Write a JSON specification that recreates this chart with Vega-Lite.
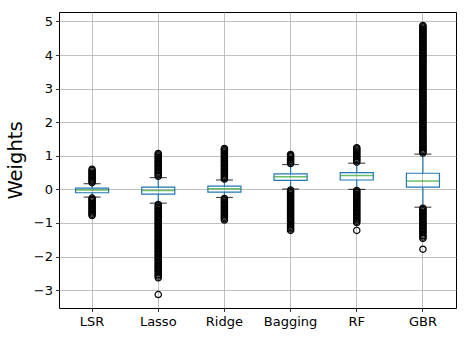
{
 "$schema": "https://vega.github.io/schema/vega-lite/v6.json",
 "width": 397, "height": 296,
 "autosize": {"type": "none"},
 "padding": {"left": 59, "top": 12, "right": 12, "bottom": 29},
 "background": "white",
 "config": {
  "font": "DejaVu Sans",
  "view": {"stroke": "black", "strokeWidth": 1},
  "axis": {"domain": false, "tickColor": "black", "tickSize": 3.5, "tickWidth": 0.8, "labelColor": "black", "labelFontSize": 13, "labelFont": "DejaVu Sans", "labelPadding": 3, "labelOverlap": false, "labelFlush": false, "gridColor": "#b0b0b0", "gridWidth": 0.8, "titleFont": "DejaVu Sans"}
 },
 "datasets": {
  "stats": [
   {"m": "LSR", "lo": -0.23, "q1": -0.10, "med": -0.02, "q3": 0.04, "hi": 0.17},
   {"m": "Lasso", "lo": -0.41, "q1": -0.14, "med": -0.03, "q3": 0.065, "hi": 0.35},
   {"m": "Ridge", "lo": -0.24, "q1": -0.08, "med": 0.02, "q3": 0.10, "hi": 0.28},
   {"m": "Bagging", "lo": 0.01, "q1": 0.27, "med": 0.38, "q3": 0.46, "hi": 0.74},
   {"m": "RF", "lo": 0.00, "q1": 0.28, "med": 0.41, "q3": 0.50, "hi": 0.78},
   {"m": "GBR", "lo": -0.53, "q1": 0.065, "med": 0.25, "q3": 0.48, "hi": 1.05}
  ],
  "fliers": [
   {"m":"LSR","v":0.20},{"m":"LSR","v":0.24},{"m":"LSR","v":0.28},{"m":"LSR","v":0.32},{"m":"LSR","v":0.36},{"m":"LSR","v":0.40},{"m":"LSR","v":0.44},{"m":"LSR","v":0.48},{"m":"LSR","v":0.52},{"m":"LSR","v":0.56},{"m":"LSR","v":0.60},
   {"m":"LSR","v":-0.26},{"m":"LSR","v":-0.30},{"m":"LSR","v":-0.34},{"m":"LSR","v":-0.38},{"m":"LSR","v":-0.42},{"m":"LSR","v":-0.46},{"m":"LSR","v":-0.50},{"m":"LSR","v":-0.54},{"m":"LSR","v":-0.58},{"m":"LSR","v":-0.62},{"m":"LSR","v":-0.66},{"m":"LSR","v":-0.70},{"m":"LSR","v":-0.74},{"m":"LSR","v":-0.78},
   {"m":"Lasso","v":0.39},{"m":"Lasso","v":0.43},{"m":"Lasso","v":0.47},{"m":"Lasso","v":0.51},{"m":"Lasso","v":0.55},{"m":"Lasso","v":0.59},{"m":"Lasso","v":0.63},{"m":"Lasso","v":0.67},{"m":"Lasso","v":0.71},{"m":"Lasso","v":0.75},{"m":"Lasso","v":0.79},{"m":"Lasso","v":0.83},{"m":"Lasso","v":0.87},{"m":"Lasso","v":0.91},{"m":"Lasso","v":0.95},{"m":"Lasso","v":0.99},{"m":"Lasso","v":1.03},{"m":"Lasso","v":1.07},
   {"m":"Lasso","v":-0.45},{"m":"Lasso","v":-0.49},{"m":"Lasso","v":-0.53},{"m":"Lasso","v":-0.57},{"m":"Lasso","v":-0.61},{"m":"Lasso","v":-0.65},{"m":"Lasso","v":-0.69},{"m":"Lasso","v":-0.73},{"m":"Lasso","v":-0.77},{"m":"Lasso","v":-0.81},{"m":"Lasso","v":-0.85},{"m":"Lasso","v":-0.89},{"m":"Lasso","v":-0.93},{"m":"Lasso","v":-0.97},{"m":"Lasso","v":-1.01},{"m":"Lasso","v":-1.05},{"m":"Lasso","v":-1.09},{"m":"Lasso","v":-1.13},{"m":"Lasso","v":-1.17},{"m":"Lasso","v":-1.21},{"m":"Lasso","v":-1.25},{"m":"Lasso","v":-1.29},{"m":"Lasso","v":-1.33},{"m":"Lasso","v":-1.37},{"m":"Lasso","v":-1.41},{"m":"Lasso","v":-1.45},{"m":"Lasso","v":-1.49},{"m":"Lasso","v":-1.53},{"m":"Lasso","v":-1.57},{"m":"Lasso","v":-1.61},{"m":"Lasso","v":-1.65},{"m":"Lasso","v":-1.69},{"m":"Lasso","v":-1.73},{"m":"Lasso","v":-1.77},{"m":"Lasso","v":-1.81},{"m":"Lasso","v":-1.85},{"m":"Lasso","v":-1.89},{"m":"Lasso","v":-1.93},{"m":"Lasso","v":-1.97},{"m":"Lasso","v":-2.01},{"m":"Lasso","v":-2.05},{"m":"Lasso","v":-2.09},{"m":"Lasso","v":-2.13},{"m":"Lasso","v":-2.17},{"m":"Lasso","v":-2.21},{"m":"Lasso","v":-2.25},{"m":"Lasso","v":-2.29},{"m":"Lasso","v":-2.33},{"m":"Lasso","v":-2.37},{"m":"Lasso","v":-2.41},{"m":"Lasso","v":-2.45},{"m":"Lasso","v":-2.49},{"m":"Lasso","v":-2.54},{"m":"Lasso","v":-2.58},{"m":"Lasso","v":-2.63},{"m":"Lasso","v":-3.13},
   {"m":"Ridge","v":0.31},{"m":"Ridge","v":0.35},{"m":"Ridge","v":0.39},{"m":"Ridge","v":0.43},{"m":"Ridge","v":0.47},{"m":"Ridge","v":0.51},{"m":"Ridge","v":0.55},{"m":"Ridge","v":0.59},{"m":"Ridge","v":0.63},{"m":"Ridge","v":0.67},{"m":"Ridge","v":0.71},{"m":"Ridge","v":0.75},{"m":"Ridge","v":0.79},{"m":"Ridge","v":0.83},{"m":"Ridge","v":0.87},{"m":"Ridge","v":0.91},{"m":"Ridge","v":0.95},{"m":"Ridge","v":0.99},{"m":"Ridge","v":1.03},{"m":"Ridge","v":1.07},{"m":"Ridge","v":1.11},{"m":"Ridge","v":1.15},{"m":"Ridge","v":1.19},{"m":"Ridge","v":1.22},
   {"m":"Ridge","v":-0.27},{"m":"Ridge","v":-0.31},{"m":"Ridge","v":-0.35},{"m":"Ridge","v":-0.39},{"m":"Ridge","v":-0.43},{"m":"Ridge","v":-0.47},{"m":"Ridge","v":-0.51},{"m":"Ridge","v":-0.55},{"m":"Ridge","v":-0.59},{"m":"Ridge","v":-0.63},{"m":"Ridge","v":-0.67},{"m":"Ridge","v":-0.71},{"m":"Ridge","v":-0.75},{"m":"Ridge","v":-0.79},{"m":"Ridge","v":-0.83},{"m":"Ridge","v":-0.87},{"m":"Ridge","v":-0.91},
   {"m":"Bagging","v":0.77},{"m":"Bagging","v":0.81},{"m":"Bagging","v":0.85},{"m":"Bagging","v":0.89},{"m":"Bagging","v":0.93},{"m":"Bagging","v":0.97},{"m":"Bagging","v":1.01},{"m":"Bagging","v":1.04},
   {"m":"Bagging","v":-0.02},{"m":"Bagging","v":-0.06},{"m":"Bagging","v":-0.10},{"m":"Bagging","v":-0.14},{"m":"Bagging","v":-0.18},{"m":"Bagging","v":-0.22},{"m":"Bagging","v":-0.26},{"m":"Bagging","v":-0.30},{"m":"Bagging","v":-0.34},{"m":"Bagging","v":-0.38},{"m":"Bagging","v":-0.42},{"m":"Bagging","v":-0.46},{"m":"Bagging","v":-0.50},{"m":"Bagging","v":-0.54},{"m":"Bagging","v":-0.58},{"m":"Bagging","v":-0.62},{"m":"Bagging","v":-0.66},{"m":"Bagging","v":-0.70},{"m":"Bagging","v":-0.74},{"m":"Bagging","v":-0.78},{"m":"Bagging","v":-0.82},{"m":"Bagging","v":-0.86},{"m":"Bagging","v":-0.90},{"m":"Bagging","v":-0.94},{"m":"Bagging","v":-0.98},{"m":"Bagging","v":-1.02},{"m":"Bagging","v":-1.06},{"m":"Bagging","v":-1.10},{"m":"Bagging","v":-1.14},{"m":"Bagging","v":-1.18},{"m":"Bagging","v":-1.22},
   {"m":"RF","v":0.81},{"m":"RF","v":0.85},{"m":"RF","v":0.89},{"m":"RF","v":0.93},{"m":"RF","v":0.97},{"m":"RF","v":1.01},{"m":"RF","v":1.05},{"m":"RF","v":1.09},{"m":"RF","v":1.13},{"m":"RF","v":1.17},{"m":"RF","v":1.21},{"m":"RF","v":1.24},
   {"m":"RF","v":-0.03},{"m":"RF","v":-0.07},{"m":"RF","v":-0.11},{"m":"RF","v":-0.15},{"m":"RF","v":-0.19},{"m":"RF","v":-0.23},{"m":"RF","v":-0.27},{"m":"RF","v":-0.31},{"m":"RF","v":-0.35},{"m":"RF","v":-0.39},{"m":"RF","v":-0.43},{"m":"RF","v":-0.47},{"m":"RF","v":-0.51},{"m":"RF","v":-0.55},{"m":"RF","v":-0.59},{"m":"RF","v":-0.63},{"m":"RF","v":-0.67},{"m":"RF","v":-0.71},{"m":"RF","v":-0.75},{"m":"RF","v":-0.79},{"m":"RF","v":-0.83},{"m":"RF","v":-0.87},{"m":"RF","v":-0.91},{"m":"RF","v":-0.95},{"m":"RF","v":-0.99},{"m":"RF","v":-1.22},
   {"m":"GBR","v":1.08},{"m":"GBR","v":1.12},{"m":"GBR","v":1.16},{"m":"GBR","v":1.20},{"m":"GBR","v":1.24},{"m":"GBR","v":1.28},{"m":"GBR","v":1.32},{"m":"GBR","v":1.36},{"m":"GBR","v":1.40},{"m":"GBR","v":1.44},{"m":"GBR","v":1.48},{"m":"GBR","v":1.52},{"m":"GBR","v":1.56},{"m":"GBR","v":1.60},{"m":"GBR","v":1.64},{"m":"GBR","v":1.68},{"m":"GBR","v":1.72},{"m":"GBR","v":1.76},{"m":"GBR","v":1.80},{"m":"GBR","v":1.84},{"m":"GBR","v":1.88},{"m":"GBR","v":1.92},{"m":"GBR","v":1.96},{"m":"GBR","v":2.00},{"m":"GBR","v":2.04},{"m":"GBR","v":2.08},{"m":"GBR","v":2.12},{"m":"GBR","v":2.16},{"m":"GBR","v":2.20},{"m":"GBR","v":2.24},{"m":"GBR","v":2.28},{"m":"GBR","v":2.32},{"m":"GBR","v":2.36},{"m":"GBR","v":2.40},{"m":"GBR","v":2.44},{"m":"GBR","v":2.48},{"m":"GBR","v":2.52},{"m":"GBR","v":2.56},{"m":"GBR","v":2.60},{"m":"GBR","v":2.64},{"m":"GBR","v":2.68},{"m":"GBR","v":2.72},{"m":"GBR","v":2.76},{"m":"GBR","v":2.80},{"m":"GBR","v":2.84},{"m":"GBR","v":2.88},{"m":"GBR","v":2.92},{"m":"GBR","v":2.96},{"m":"GBR","v":3.00},{"m":"GBR","v":3.04},{"m":"GBR","v":3.08},{"m":"GBR","v":3.12},{"m":"GBR","v":3.16},{"m":"GBR","v":3.20},{"m":"GBR","v":3.24},{"m":"GBR","v":3.28},{"m":"GBR","v":3.32},{"m":"GBR","v":3.36},{"m":"GBR","v":3.40},{"m":"GBR","v":3.44},{"m":"GBR","v":3.48},{"m":"GBR","v":3.52},{"m":"GBR","v":3.56},{"m":"GBR","v":3.60},{"m":"GBR","v":3.64},{"m":"GBR","v":3.68},{"m":"GBR","v":3.72},{"m":"GBR","v":3.76},{"m":"GBR","v":3.80},{"m":"GBR","v":3.84},{"m":"GBR","v":3.88},{"m":"GBR","v":3.92},{"m":"GBR","v":3.96},{"m":"GBR","v":4.00},{"m":"GBR","v":4.04},{"m":"GBR","v":4.08},{"m":"GBR","v":4.12},{"m":"GBR","v":4.16},{"m":"GBR","v":4.20},{"m":"GBR","v":4.24},{"m":"GBR","v":4.28},{"m":"GBR","v":4.32},{"m":"GBR","v":4.36},{"m":"GBR","v":4.40},{"m":"GBR","v":4.44},{"m":"GBR","v":4.48},{"m":"GBR","v":4.52},{"m":"GBR","v":4.56},{"m":"GBR","v":4.60},{"m":"GBR","v":4.64},{"m":"GBR","v":4.68},{"m":"GBR","v":4.72},{"m":"GBR","v":4.76},{"m":"GBR","v":4.80},{"m":"GBR","v":4.84},{"m":"GBR","v":4.88},
   {"m":"GBR","v":-0.56},{"m":"GBR","v":-0.60},{"m":"GBR","v":-0.64},{"m":"GBR","v":-0.68},{"m":"GBR","v":-0.72},{"m":"GBR","v":-0.76},{"m":"GBR","v":-0.80},{"m":"GBR","v":-0.84},{"m":"GBR","v":-0.88},{"m":"GBR","v":-0.92},{"m":"GBR","v":-0.96},{"m":"GBR","v":-1.00},{"m":"GBR","v":-1.04},{"m":"GBR","v":-1.08},{"m":"GBR","v":-1.12},{"m":"GBR","v":-1.16},{"m":"GBR","v":-1.20},{"m":"GBR","v":-1.24},{"m":"GBR","v":-1.28},{"m":"GBR","v":-1.33},{"m":"GBR","v":-1.38},{"m":"GBR","v":-1.42},{"m":"GBR","v":-1.46},{"m":"GBR","v":-1.78}
  ]
 },
 "encoding": {
  "x": {"field": "m", "type": "nominal", "sort": ["LSR", "Lasso", "Ridge", "Bagging", "RF", "GBR"],
   "scale": {"paddingInner": 0, "paddingOuter": 0},
   "axis": {"title": null, "labelAngle": 0, "grid": true, "labelPadding": 4}},
  "y": {"type": "quantitative", "scale": {"domain": [-3.53, 5.28], "nice": false, "zero": false},
   "axis": {"title": "Weights", "titleFontSize": 19.5, "titleFontWeight": "normal", "titleColor": "black", "titlePadding": 8, "values": [-3, -2, -1, 0, 1, 2, 3, 4, 5], "tickCount": 9, "grid": true, "labelExpr": "replace(datum.label, '-', '\u2212')"}}
 },
 "layer": [
  {"data": {"name": "stats"}, "mark": {"type": "rule", "color": "#1f77b4", "strokeWidth": 1.2},
   "encoding": {"y": {"field": "lo"}, "y2": {"field": "q1"}}},
  {"data": {"name": "stats"}, "mark": {"type": "rule", "color": "#1f77b4", "strokeWidth": 1.2},
   "encoding": {"y": {"field": "q3"}, "y2": {"field": "hi"}}},
  {"data": {"name": "stats"}, "mark": {"type": "bar", "width": {"band": 0.5}, "fill": "white", "fillOpacity": 0, "stroke": "#1f77b4", "strokeWidth": 1.2},
   "encoding": {"y": {"field": "q1"}, "y2": {"field": "q3"}}},
  {"data": {"name": "stats"}, "mark": {"type": "tick", "color": "#2ca02c", "size": 33, "thickness": 1.5},
   "encoding": {"y": {"field": "med"}}},
  {"data": {"name": "stats"}, "mark": {"type": "tick", "color": "black", "size": 17, "thickness": 1.2},
   "encoding": {"y": {"field": "lo"}}},
  {"data": {"name": "stats"}, "mark": {"type": "tick", "color": "black", "size": 17, "thickness": 1.2},
   "encoding": {"y": {"field": "hi"}}},
  {"data": {"name": "fliers"}, "mark": {"type": "point", "shape": "circle", "filled": false, "stroke": "black", "strokeWidth": 1.2, "size": 40, "opacity": 1},
   "encoding": {"y": {"field": "v"}}}
 ]
}
